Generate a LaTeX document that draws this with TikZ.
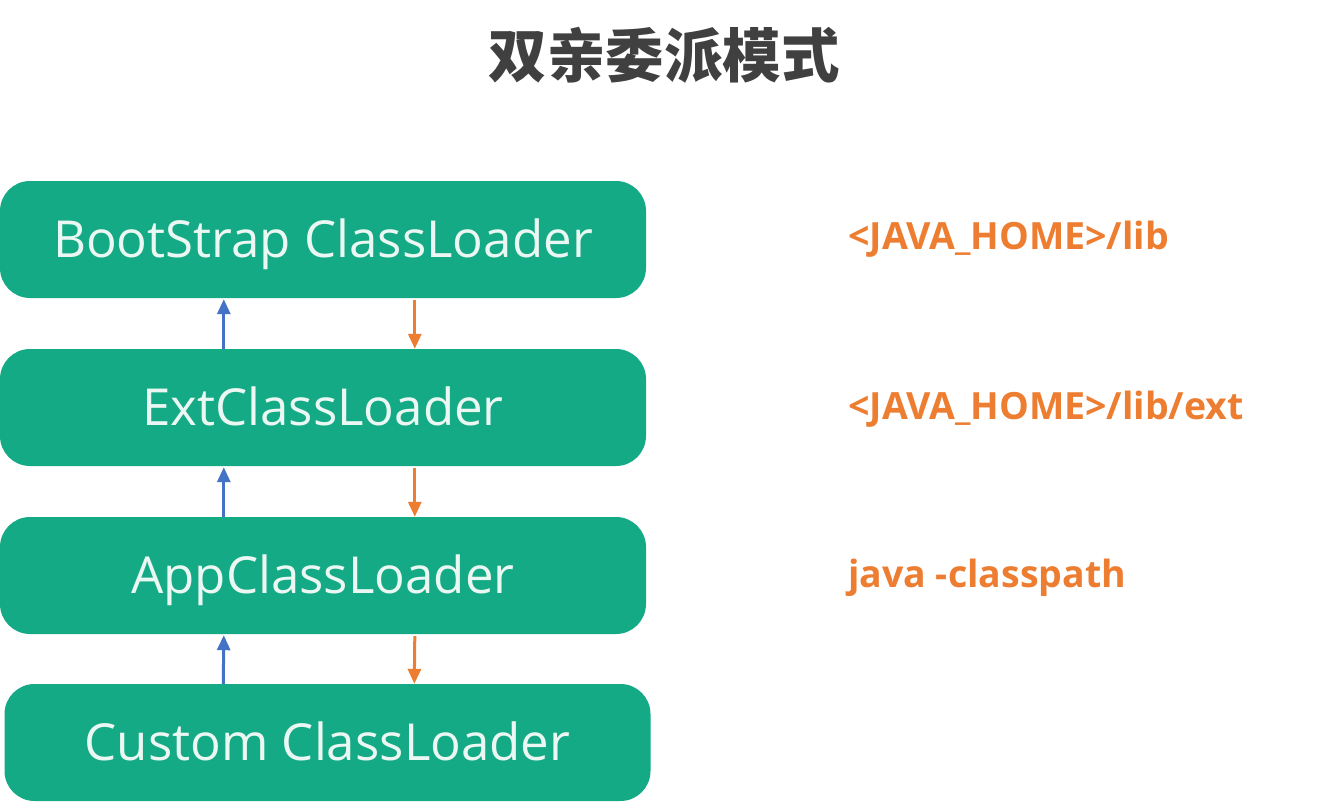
\documentclass[tikz,border=0pt]{standalone}
\usepackage{fontspec}
\setmainfont{Open Sans}
\newfontfamily\cjk{Noto Sans CJK SC}
\usetikzlibrary{arrows.meta}
\definecolor{boxgreen}{HTML}{13AA85}
\definecolor{boxtext}{HTML}{EAF7F2}
\definecolor{arrblue}{HTML}{4472C4}
\definecolor{arrorange}{HTML}{ED7D31}
\definecolor{titlegray}{HTML}{404040}
\tikzset{
  loader/.style={fill=boxgreen, rounded corners=30pt, minimum width=646pt, minimum height=117pt,
    inner sep=0pt, text=boxtext, text height=36pt, text depth=0pt, font=\fontsize{51}{60}\selectfont},
  pathlabel/.style={anchor=west, text=arrorange, inner sep=0pt, font=\bfseries\fontsize{37.5}{44}\selectfont},
  uparr/.style={draw=arrblue, line width=3pt, -{Triangle[length=15pt,width=13pt]}},
  downarr/.style={draw=arrorange, line width=3pt, -{Triangle[length=15pt,width=13pt]}}
}
\begin{document}
\begin{tikzpicture}[x=1pt,y=-1pt]
\useasboundingbox (0,0) rectangle (1334,803);
\node[font=\cjk\bfseries\fontsize{58.5}{66}\selectfont, text=titlegray, inner sep=0pt] (title) at (664,55) {双亲委派模式};
\node[loader] (b1) at (323,239.5) {BootStrap ClassLoader};
\node[loader] (b2) at (323,407.5) {ExtClassLoader};
\node[loader] (b3) at (323,575.5) {AppClassLoader};
\node[loader] (b4) at (327.5,742.5) {Custom ClassLoader};
\node[pathlabel] (l1) at (848,239) {<JAVA\_HOME>/lib};
\node[pathlabel] (l2) at (848,409) {<JAVA\_HOME>/lib/ext};
\node[pathlabel] (l3) at (848,578) {java -classpath};
\draw[uparr] ([xshift=224pt]b2.north west) -- ([xshift=224pt,yshift=-1pt]b1.south west);
\draw[downarr] ([xshift=415pt,yshift=-2pt]b1.south west) -- ([xshift=415pt]b2.north west);
\draw[uparr] ([xshift=224pt]b3.north west) -- ([xshift=224pt,yshift=-1pt]b2.south west);
\draw[downarr] ([xshift=415pt,yshift=-2pt]b2.south west) -- ([xshift=415pt]b3.north west);
\draw[uparr] ([xshift=219pt]b4.north west) -- ([xshift=224pt,yshift=-1pt]b3.south west);
\draw[downarr] ([xshift=415pt,yshift=-2pt]b3.south west) -- ([xshift=410pt]b4.north west);
\end{tikzpicture}
\end{document}
